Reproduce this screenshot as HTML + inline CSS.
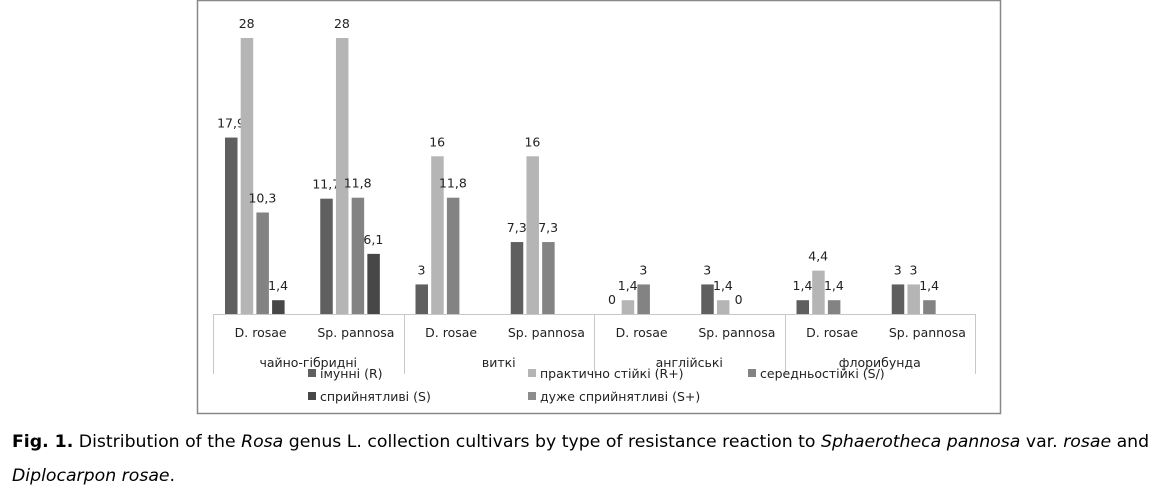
<!DOCTYPE html>
<html><head><meta charset="utf-8">
<style>
body{margin:0;width:1162px;height:496px;background:#fff;overflow:hidden;font-family:"DejaVu Sans","Liberation Sans",sans-serif}
#cap{position:absolute;left:12px;top:425px;font-size:17.3px;line-height:34px;color:#000;white-space:nowrap}
</style></head><body>
<svg id="chart" width="1162" height="420" style="position:absolute;left:0;top:0" font-family="DejaVu Sans, Liberation Sans, sans-serif" font-size="12.5">
<rect x="197.5" y="0.5" width="803" height="413" fill="#fff" stroke="#888" stroke-width="1.5"/>
<g id="axis"></g><g id="bars"></g><g id="legend"></g>
</svg>
<div id="cap"><b>Fig. 1.</b> Distribution of the <i>Rosa</i> genus L. collection cultivars by type of resistance reaction to <i>Sphaerotheca pannosa</i> var. <i>rosae</i> and<br><i>Diplocarpon rosae</i>.</div>
<script>
const groups = ["чайно-гібридні","виткі","англійські","флорибунда"];
const subcats = ["D. rosae","Sp. pannosa","D. rosae","Sp. pannosa","D. rosae","Sp. pannosa","D. rosae","Sp. pannosa"];
const seriesNames = ["імунні (R)","практично стійкі (R+)","середньостійкі (S/)","сприйнятливі (S)","дуже сприйнятливі (S+)"];
const seriesR  = [17.9, 11.7, 3, 7.3, 0, 3, 1.4, 3];
const seriesRp = [28, 28, 16, 16, 1.4, 1.4, 4.4, 3];
const seriesS_ = [10.3, 11.8, 11.8, 7.3, 3, 0, 1.4, 1.4];
const seriesS  = [1.4, 6.1, null, null, null, null, null, null];
const seriesSp = [null, null, null, null, null, null, null, null];
const colors = ["#5f5f5f","#b5b5b5","#838383","#474747","#8c8c8c"];
const NS="http://www.w3.org/2000/svg";
const x0=213, catW=95.25, baseY=314, scale=9.857;
const xCat=i=>x0+i*catW;
const yVal=v=>baseY-v*scale;
function mk(tag,attrs,parent,txt){const e=document.createElementNS(NS,tag);for(const k in attrs)e.setAttribute(k,attrs[k]);if(txt!=null)e.textContent=txt;parent.appendChild(e);return e;}
const ax=document.getElementById('axis'), bg=document.getElementById('bars'), lg=document.getElementById('legend');
let l=mk('line',{x1:x0,x2:xCat(8),y1:baseY+.5,y2:baseY+.5,stroke:'#c8c8c8'},ax);


for(let g=0;g<=4;g++){const x=Math.round(xCat(g*2))+.5;
 const t=mk('line',{x1:x,x2:x,y1:baseY,y2:374,stroke:'#c8c8c8'},ax);
 
 }
subcats.forEach((c,i)=>{const t=mk('text',{x:xCat(i)+catW/2,y:337,'text-anchor':'middle',fill:'#222'},ax,c);
 
 });
groups.forEach((g,i)=>{const t=mk('text',{x:xCat(i*2)+catW,y:367,'text-anchor':'middle',fill:'#222'},ax,g);
 
 });
const series=[seriesR,seriesRp,seriesS_,seriesS,seriesSp];
series.forEach((s,si)=>{s.forEach((v,i)=>{if(v==null)return;
 const bx=xCat(i)+12+si*15.7, y=yVal(v);
 const r=mk('rect',{x:bx,y:y,width:12.5,height:baseY-y,fill:colors[si]},bg);
 
 
 const t=mk('text',{x:bx+6,y:y-10,'text-anchor':'middle',fill:'#222'},bg,String(v).replace('.',','));
 
 });});
const legPos=[[308,378],[528,378],[748,378],[308,401],[528,401]];
seriesNames.forEach((n,i)=>{const [x,y]=legPos[i];
 const r=mk('rect',{x:x,y:y-9,width:8,height:8,fill:colors[i]},lg);
 
 
 const t=mk('text',{x:x+12,y:y,fill:'#222'},lg,n);
 
 });
</script>
</body></html>
